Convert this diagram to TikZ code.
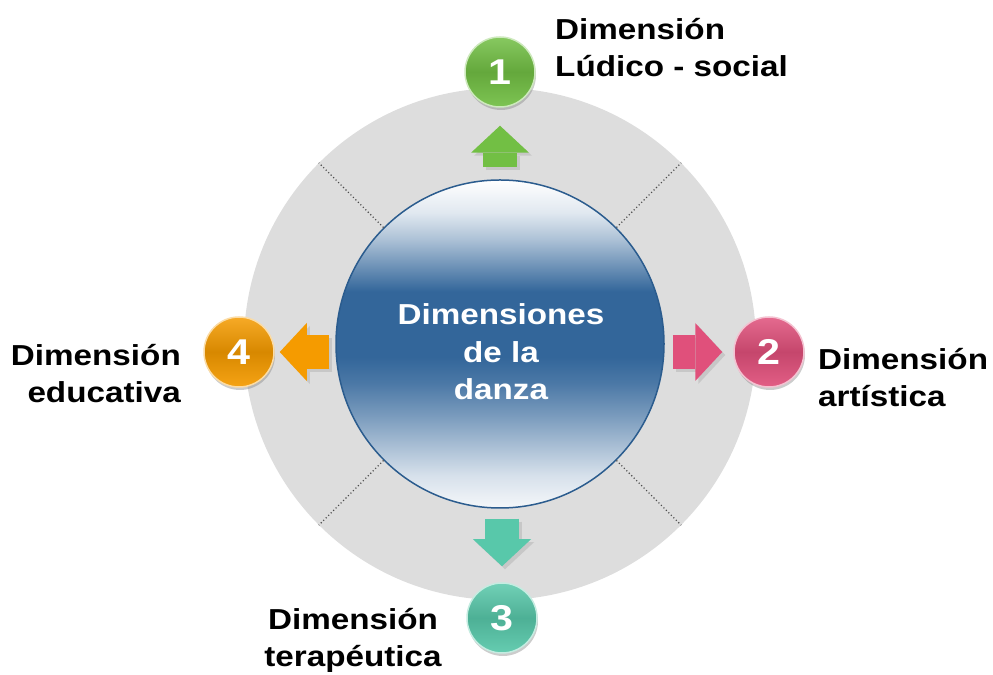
\documentclass[tikz,border=0pt]{standalone}
\usepackage{fontspec}
\setmainfont{Liberation Sans}[FakeStretch=1.15]
\usepackage{tikz}
\usetikzlibrary{positioning,shadows,arrows.meta}

\definecolor{ringgray}{HTML}{DDDDDD}
\definecolor{danzablue}{HTML}{33669A}
\definecolor{edgeblue}{HTML}{2B5C8E}
\definecolor{ludgreen}{HTML}{72BF44}
\definecolor{artpink}{HTML}{E0507B}
\definecolor{terteal}{HTML}{58C8AA}
\definecolor{eduorange}{HTML}{F59B00}

\pgfdeclareverticalshading{danzashade}{100bp}{color(0bp)=(white); color(25bp)=(white!95!danzablue);
  color(30bp)=(white!80!danzablue); color(34bp)=(white!60!danzablue); color(39bp)=(white!35!danzablue);
  color(44bp)=(white!12!danzablue); color(48bp)=(danzablue); color(58bp)=(danzablue);
  color(62bp)=(white!30!danzablue); color(66bp)=(white!60!danzablue); color(70bp)=(white!85!danzablue);
  color(75bp)=(white); color(100bp)=(white)}

\begin{document}
\begin{tikzpicture}[x=1bp, y=1bp,
    dimtext/.style={font=\bfseries\fontsize{29}{38}\selectfont, inner sep=0pt},
    ball/.style={
      circle, minimum size=70bp, inner sep=0pt, draw=#1!35!white, line width=1.5bp,
      top color=#1!85!white, bottom color=#1!92!white, middle color=#1!88!black,
      drop shadow={shadow xshift=1bp, shadow yshift=-3bp, fill=black!50, opacity=.4},
      text=white, font=\bfseries\fontsize{36}{36}\selectfont
    },
    blockarrow/.style={line width=34bp, draw=#1,
      -{Triangle[length=27bp, width=58bp, line width=0pt]}},
    arrowshadow/.style={blockarrow=black!30, opacity=.5,
      transform canvas={xshift=3bp, yshift=-3bp}},
    divider/.style={draw=black!70, line width=1.1bp, dash pattern=on 1.1bp off 2.4bp},
  ]
    \useasboundingbox (0,0) rectangle (993,675);

    \node[circle, fill=ringgray, minimum size=512bp, inner sep=0pt](ring) at (500,331) {};
    \node[circle, shading=danzashade, draw=edgeblue, line width=1.5bp,
      minimum size=328bp, inner sep=0pt](danza) at (500,331) {};
    \node[dimtext, text=white, anchor=base, align=center](danza_text) at (501,275)
      {Dimensiones\\de la\\danza};

    \draw[divider] (danza.45) -- (ring.45);
    \draw[divider] (danza.135) -- (ring.135);
    \draw[divider] (danza.225) -- (ring.225);
    \draw[divider] (danza.315) -- (ring.315);

    \node[ball=ludgreen](n1) at (500,603) {1};
    \node[ball=artpink](n2) at (769,323) {2};
    \node[ball=terteal](n3) at (502,57) {3};
    \node[ball=eduorange](n4) at (239,323) {4};

    \draw[arrowshadow, shorten <=12bp, shorten >=18bp] (n1 |- danza.north) -- (n1);
    \draw[blockarrow=ludgreen, shorten <=12bp, shorten >=18bp] (n1 |- danza.north) -- (n1);
    \draw[arrowshadow, shorten <=8bp, shorten >=11bp] (danza.east |- n2) -- (n2);
    \draw[blockarrow=artpink, shorten <=8bp, shorten >=11bp] (danza.east |- n2) -- (n2);
    \draw[arrowshadow, shorten <=10bp, shorten >=16bp] (n3 |- danza.south) -- (n3);
    \draw[blockarrow=terteal, shorten <=10bp, shorten >=16bp] (n3 |- danza.south) -- (n3);
    \draw[arrowshadow, shorten <=6bp, shorten >=5bp] (danza.west |- n4) -- (n4);
    \draw[blockarrow=eduorange, shorten <=6bp, shorten >=5bp] (danza.west |- n4) -- (n4);

    \node[dimtext, anchor=base west, align=left](lab1) at (555,598) {Dimensión\\Lúdico - social};
    \node[dimtext, anchor=base west, align=left](lab2) at (818,268) {Dimensión\\artística};
    \node[dimtext, anchor=base, align=center](lab3) at (353,8) {Dimensión\\terapéutica};
    \node[dimtext, anchor=base east, align=right](lab4) at (181,272) {Dimensión\\educativa};

  \end{tikzpicture}
\end{document}
